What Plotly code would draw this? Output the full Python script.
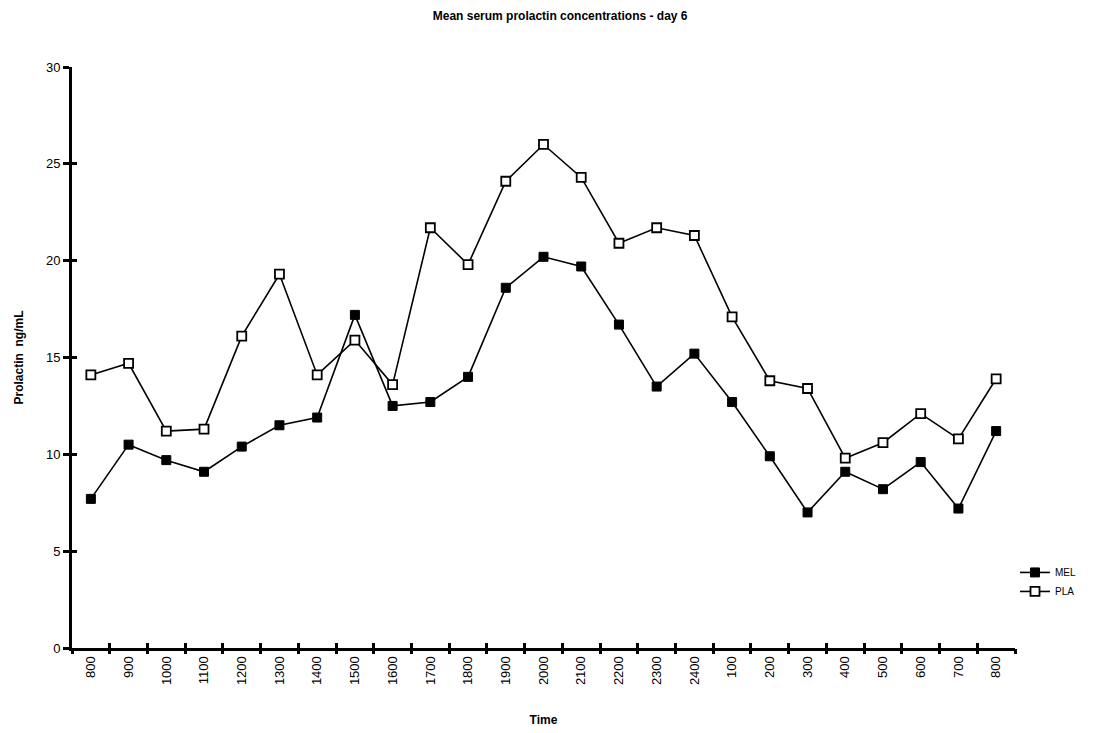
import plotly.graph_objects as go

time_labels = ["800", "900", "1000", "1100", "1200", "1300", "1400", "1500", "1600",
               "1700", "1800", "1900", "2000", "2100", "2200", "2300", "2400",
               "100", "200", "300", "400", "500", "600", "700", "800"]
mel = [7.7, 10.5, 9.7, 9.1, 10.4, 11.5, 11.9, 17.2, 12.5, 12.7, 14.0, 18.6, 20.2,
       19.7, 16.7, 13.5, 15.2, 12.7, 9.9, 7.0, 9.1, 8.2, 9.6, 7.2, 11.2]
pla = [14.1, 14.7, 11.2, 11.3, 16.1, 19.3, 14.1, 15.9, 13.6, 21.7, 19.8, 24.1, 26.0,
       24.3, 20.9, 21.7, 21.3, 17.1, 13.8, 13.4, 9.8, 10.6, 12.1, 10.8, 13.9]
y_ticks = [0, 5, 10, 15, 20, 25, 30]

xpos = list(range(len(time_labels)))
boundaries = [i - 0.5 for i in range(len(time_labels) + 1)]
FONT = "Liberation Sans, Arial, sans-serif"

fig = go.Figure()
fig.add_trace(go.Scatter(
    x=xpos, y=mel, name="MEL", mode="lines+markers",
    line=dict(color="black", width=1.6),
    marker=dict(symbol="square", size=9, color="black", line=dict(color="black", width=1)),
))
fig.add_trace(go.Scatter(
    x=xpos, y=pla, name="PLA", mode="lines+markers",
    line=dict(color="black", width=1.6),
    marker=dict(symbol="square", size=9, color="white", line=dict(color="black", width=1.8)),
))
# invisible traces to activate overlay axes carrying tick marks
fig.add_trace(go.Scatter(x=[boundaries[0], boundaries[-1]], y=[0, 0], xaxis="x2",
                         mode="lines", line=dict(width=0), showlegend=False, hoverinfo="skip"))
fig.add_trace(go.Scatter(x=[boundaries[0], boundaries[-1]], y=[0, 0], xaxis="x3", yaxis="y2",
                         mode="lines", line=dict(width=0), showlegend=False, hoverinfo="skip"))

tick_common = dict(ticklen=5, tickwidth=2.5, tickcolor="black",
                   showgrid=False, zeroline=False, showline=False)

fig.update_layout(
    width=1094, height=733,
    paper_bgcolor="white", plot_bgcolor="white",
    margin=dict(l=72, r=79, t=67, b=85),
    font=dict(family=FONT, color="black", size=13),
    title=dict(text="<b>Mean serum prolactin concentrations - day 6</b>",
               x=0.512, xref="container", xanchor="center",
               y=0.978, yref="container", yanchor="middle",
               font=dict(size=12, family=FONT)),
    xaxis=dict(
        range=[boundaries[0], boundaries[-1]], automargin=False,
        tickmode="array", tickvals=xpos, ticktext=time_labels,
        tickangle=-90, ticks="", showgrid=False, zeroline=False,
        showline=True, linecolor="black", linewidth=3,
        tickfont=dict(size=13, family=FONT),
        title=dict(text="<b>Time</b>", font=dict(size=12, family=FONT), standoff=32),
    ),
    xaxis2=dict(
        overlaying="x", side="bottom", anchor="y",
        range=[boundaries[0], boundaries[-1]],
        tickmode="array", tickvals=boundaries, showticklabels=False,
        ticks="outside", **tick_common,
    ),
    xaxis3=dict(
        overlaying="x", side="bottom", anchor="y2",
        range=[boundaries[0], boundaries[-1]],
        tickmode="array", tickvals=boundaries, showticklabels=False,
        ticks="inside", **tick_common,
    ),
    yaxis=dict(
        range=[0, 30], tickmode="array", tickvals=y_ticks,
        ticks="outside", ticklen=6, tickwidth=2.5, tickcolor="black",
        showgrid=False, zeroline=False,
        showline=True, linecolor="black", linewidth=3,
        tickfont=dict(size=13, family=FONT),
        title=dict(text="<b>Prolactin  ng/mL</b>", font=dict(size=12, family=FONT), standoff=20),
    ),
    yaxis2=dict(
        overlaying="y", side="left", anchor="x3",
        range=[0, 30], tickmode="array", tickvals=y_ticks, showticklabels=False,
        ticks="inside", **tick_common,
    ),
    legend=dict(
        x=1.0, xanchor="left", y=0.155, yanchor="top",
        font=dict(size=10, family=FONT), bgcolor="rgba(0,0,0,0)",
        itemwidth=30, tracegroupgap=0,
    ),
    showlegend=True,
)

fig.write_html("out.html")
